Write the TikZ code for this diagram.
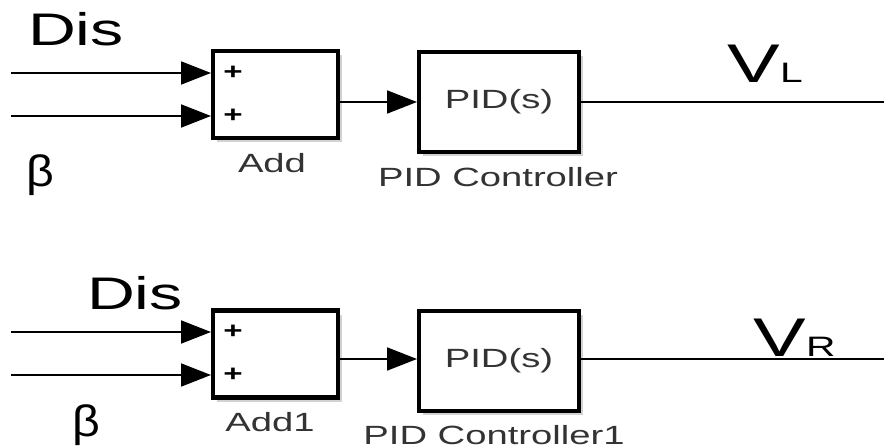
\documentclass[tikz,border=0pt]{standalone}
\usepackage{graphicx}
\usepackage{fontspec}
\setmainfont{Liberation Sans}
\usetikzlibrary{arrows.meta,shadows}

% the reference is stretched sideways
\newcommand{\wide}[1]{\scalebox{1.45}[1]{#1}}
\newcommand{\fs}[1]{\fontsize{#1}{#1}\selectfont}

\tikzset{
 block/.style={draw, line width=2.3pt, fill=white,
   drop shadow={shadow xshift=2.5pt, shadow yshift=-2.5pt, fill=black!35}},
 addblock/.style={block, minimum width=2.5cm, minimum height=1.74cm},
 pidblock/.style={block, minimum width=3.2cm, minimum height=2.0cm},
 signal/.style={line width=1.2pt, -{Triangle[length=17pt,width=13pt]}},
 wire/.style={line width=1.2pt},
 caption/.style={text=black!80, inner sep=0pt, font=\fs{15}},
 sign/.style={inner sep=0pt, font=\bfseries\fs{13}},
 lbl/.style={inner sep=0pt}
}

\begin{document}
\begin{tikzpicture}[x=0.02cm, y=-0.02cm]
 \useasboundingbox (0,0) rectangle (884,448) ;

 % upper loop
 \node[addblock] (addL) at (275.5, 94.5) {} ;
 \node[pidblock] (pidL) at (499, 102) {\color{black!80}\fs{15}\wide{PID(s)}} ;
 \node[sign] (plusLa) at (233, 73) {\wide{+}} ;
 \node[sign] (plusLb) at (233, 116) {\wide{+}} ;
 \node[caption] (capAddL) at (272, 163) {\wide{Add}} ;
 \node[caption] (capPidL) at (498, 177) {\wide{PID Controller}} ;

 \coordinate (inLa) at (11, 73) ;
 \coordinate (inLb) at (11, 116) ;
 \coordinate (outL) at (884, 102) ;
 \draw[signal] (inLa) -- (inLa -| addL.west) ;
 \draw[signal] (inLb) -- (inLb -| addL.west) ;
 \draw[signal] (pidL.west -| addL.east) -- (pidL.west) ;
 \draw[wire] (pidL.east) -- (outL) ;

 \node[lbl] (disL) at (76, 29) {\fs{26}\wide{Dis}} ;
 \node[lbl] (betaL) at (40, 175) {\fs{25}\scalebox{1.1}[1]{β}} ;
 \node[lbl, anchor=base west] (vL) at (727, 83) {\wide{\fs{31}V\fs{16}L}} ;

 % lower loop
 \node[addblock] (addR) at (275.5, 354) {} ;
 \node[pidblock] (pidR) at (499, 361) {\color{black!80}\fs{15}\wide{PID(s)}} ;
 \node[sign] (plusRa) at (233, 332) {\wide{+}} ;
 \node[sign] (plusRb) at (233, 375) {\wide{+}} ;
 \node[caption] (capAddR) at (270, 422) {\wide{Add1}} ;
 \node[caption] (capPidR) at (494, 435) {\wide{PID Controller1}} ;

 \coordinate (inRa) at (11, 332) ;
 \coordinate (inRb) at (11, 375) ;
 \coordinate (outR) at (884, 359) ;
 \draw[signal] (inRa) -- (inRa -| addR.west) ;
 \draw[signal] (inRb) -- (inRb -| addR.west) ;
 \draw[signal] (outR -| addR.east) -- (outR -| pidR.west) ;
 \draw[wire] (outR -| pidR.east) -- (outR) ;

 \node[lbl] (disR) at (135, 293) {\fs{26}\wide{Dis}} ;
 \node[lbl] (betaR) at (86, 425) {\fs{25}\scalebox{1.1}[1]{β}} ;
 \node[lbl, anchor=base west] (vR) at (753, 357) {\wide{\fs{31}V\fs{16}R}} ;
\end{tikzpicture}
\end{document}
